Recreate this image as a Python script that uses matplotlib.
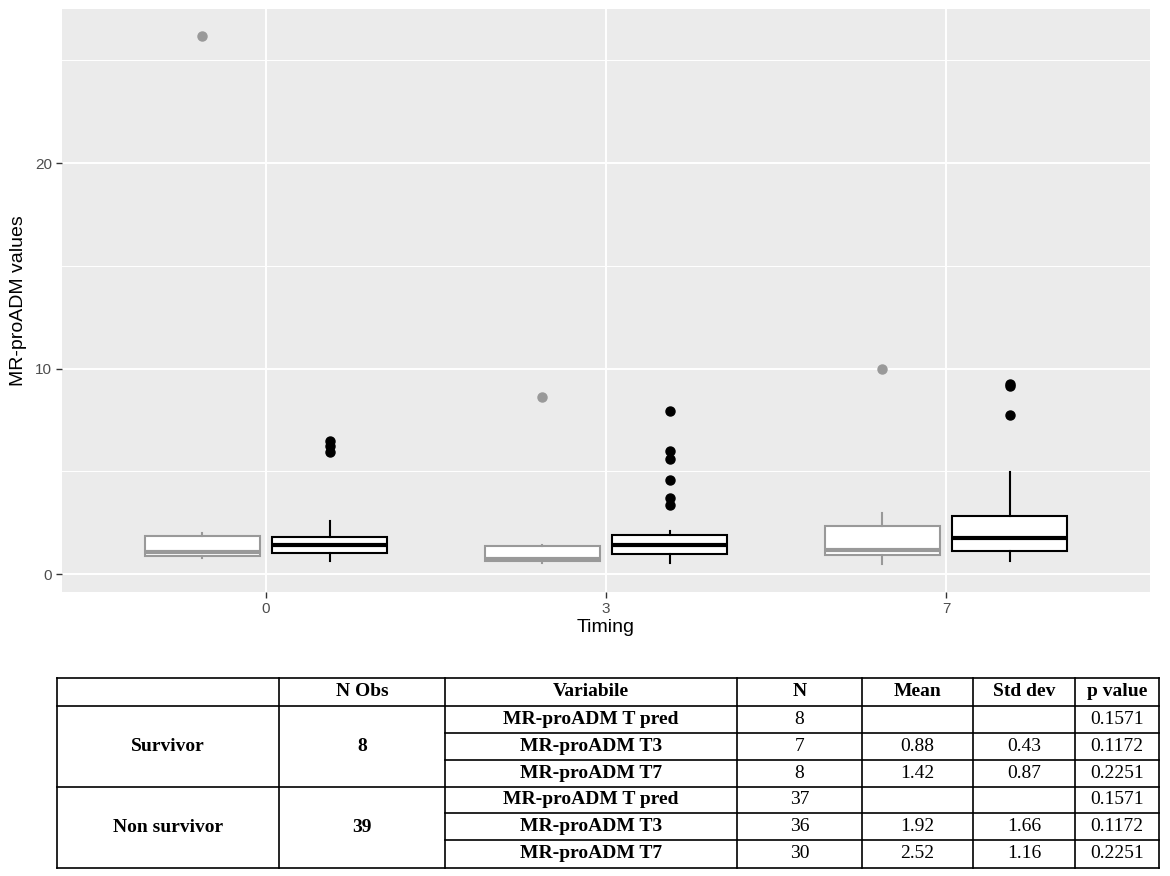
import matplotlib
matplotlib.use("Agg")
import matplotlib.pyplot as plt

# Box statistics (Survivor = grey, Non survivor = black)
timing_labels = ["0", "3", "7"]

surv_whislo = [0.78, 0.54, 0.49]
surv_q1 = [0.89, 0.65, 0.93]
surv_med = [1.09, 0.75, 1.19]
surv_q3 = [1.87, 1.35, 2.33]
surv_whishi = [2.00, 1.43, 2.98]
surv_fliers = [[26.2], [8.62], [9.97]]

non_whislo = [0.65, 0.54, 0.65]
non_q1 = [1.01, 0.98, 1.11]
non_med = [1.43, 1.43, 1.76]
non_q3 = [1.79, 1.92, 2.85]
non_whishi = [2.60, 2.08, 4.96]
non_fliers = [[5.95, 6.25, 6.5],
              [3.38, 3.71, 4.59, 5.61, 5.97, 7.92],
              [7.72, 9.15, 9.25]]

# Table contents
headers = ["", "N Obs", "Variabile", "N", "Mean", "Std dev", "p value"]
groups = ["Survivor", "Non survivor"]
n_obs = ["8", "39"]
variables = ["MR-proADM T pred", "MR-proADM T3", "MR-proADM T7"] * 2
n_vals = ["8", "7", "8", "37", "36", "30"]
means = ["", "0.88", "1.42", "", "1.92", "2.52"]
std_devs = ["", "0.43", "0.87", "", "1.66", "1.16"]
p_values = ["0.1571", "0.1172", "0.2251"] * 2


def make_stats(lo, q1, med, q3, hi, fl):
    return [dict(whislo=a, q1=b, med=c, q3=d, whishi=e, fliers=f)
            for a, b, c, d, e, f in zip(lo, q1, med, q3, hi, fl)]


W, H = 1170, 876
fig = plt.figure(figsize=(W / 100, H / 100), dpi=100)
plt.rcParams["font.family"] = "Liberation Sans"

ax = fig.add_axes([62 / W, 1 - 592 / H, (1150 - 62) / W, (592 - 9) / H])
ax.set_facecolor("#EBEBEB")
for s in ax.spines.values():
    s.set_visible(False)

box_w = 0.338
off = 0.1875
pos = list(range(len(timing_labels)))

for stats, shift, col in [
    (make_stats(surv_whislo, surv_q1, surv_med, surv_q3, surv_whishi, surv_fliers), -off, "#999999"),
    (make_stats(non_whislo, non_q1, non_med, non_q3, non_whishi, non_fliers), off, "black"),
]:
    ax.bxp(stats, positions=[p + shift for p in pos], widths=box_w,
           patch_artist=True, showcaps=False, manage_ticks=False,
           boxprops=dict(facecolor="white", edgecolor=col, linewidth=1.5),
           medianprops=dict(color=col, linewidth=3),
           whiskerprops=dict(color=col, linewidth=1.5),
           flierprops=dict(marker="o", markerfacecolor=col, markeredgecolor=col,
                           markersize=6.5, linestyle="none"),
           zorder=3)

ax.set_xlim(-0.6, 2.6)
ax.set_ylim(-0.87, 27.5)
ax.set_xticks(pos)
ax.set_xticklabels(timing_labels)
ax.set_yticks([0, 10, 20])
ax.set_yticks([5, 15, 25], minor=True)
ax.grid(True, which="major", color="white", linewidth=1.4, zorder=0)
ax.grid(True, which="minor", axis="y", color="white", linewidth=0.7, zorder=0)
ax.set_axisbelow(True)
ax.tick_params(axis="both", which="major", length=4, width=1, color="#333333",
               labelcolor="#4D4D4D", labelsize=11, pad=3)
ax.tick_params(axis="y", which="minor", length=0)
ax.set_xlabel("Timing", fontsize=14, labelpad=2)
ax.set_ylabel("MR-proADM values", fontsize=14, labelpad=6)

# Table drawn in pixel coordinates
tb = fig.add_axes([0, 0, 1, (H - 670) / H])
tb.set_xlim(0, W)
tb.set_ylim(H, 670)
tb.axis("off")

col_edges = [57, 279, 445, 737, 862, 973, 1075, 1159]
row_edges = [678, 706, 733, 760, 787, 813, 840, 868]
lw = 1.2

for x in col_edges:
    tb.plot([x, x], [row_edges[0], row_edges[-1]], color="black", lw=lw)
for i, y in enumerate(row_edges):
    x0 = col_edges[0] if i in (0, 1, 4, 7) else col_edges[2]
    tb.plot([x0, col_edges[-1]], [y, y], color="black", lw=lw)

serif = "Liberation Serif"
fs = 14


def cx(c):
    return (col_edges[c] + col_edges[c + 1]) / 2


def cy(r):
    return (row_edges[r] + row_edges[r + 1]) / 2


for c, h in enumerate(headers):
    tb.text(cx(c), cy(0), h, ha="center", va="center", family=serif,
            fontsize=fs, fontweight="bold")

for g in range(len(groups)):
    ymid = (row_edges[1 + 3 * g] + row_edges[4 + 3 * g]) / 2
    tb.text(cx(0), ymid, groups[g], ha="center", va="center", family=serif,
            fontsize=fs, fontweight="bold")
    tb.text(cx(1), ymid, n_obs[g], ha="center", va="center", family=serif,
            fontsize=fs, fontweight="bold")

for r in range(len(variables)):
    y = cy(r + 1)
    tb.text(cx(2), y, variables[r], ha="center", va="center", family=serif,
            fontsize=fs, fontweight="bold")
    for c, vals in zip([3, 4, 5, 6], [n_vals, means, std_devs, p_values]):
        tb.text(cx(c), y, vals[r], ha="center", va="center", family=serif,
                fontsize=fs)

fig.savefig("out.png", dpi=100)
